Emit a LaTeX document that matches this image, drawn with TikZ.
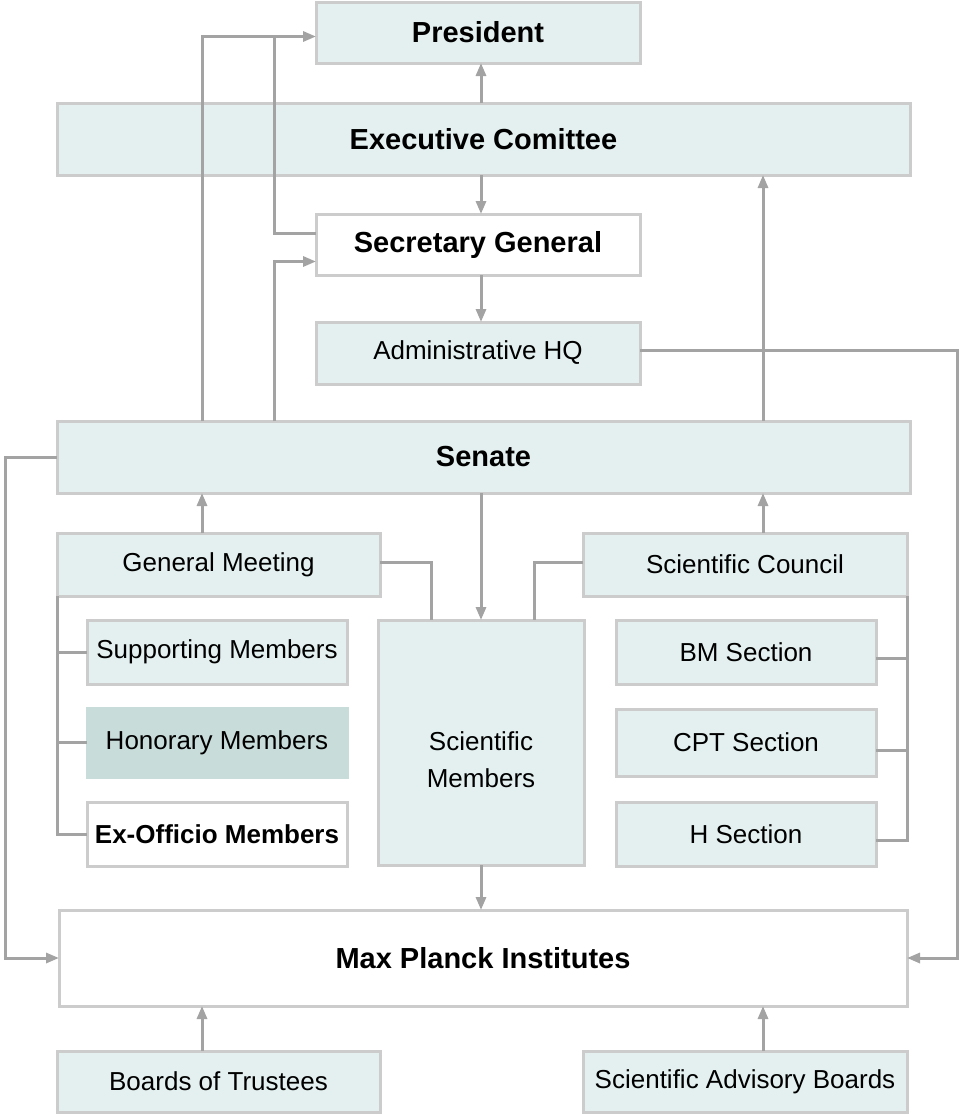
\documentclass[tikz,border=0pt]{standalone}
\usepackage{fontspec}
\setmainfont{Liberation Sans}
\usetikzlibrary{arrows.meta}
\definecolor{boxfill}{HTML}{E4F0F0}
\definecolor{boxdark}{HTML}{C8DCDA}
\definecolor{boxline}{HTML}{CCCCCC}
\definecolor{conn}{HTML}{A3A3A3}
\tikzset{
 box/.style={draw=boxline, line width=3pt, fill=boxfill, inner sep=0pt, outer sep=0pt,
   anchor=north west, align=center, font=\fontsize{26}{37}\selectfont},
 boldbox/.style={box, font=\fontsize{29}{35}\selectfont\bfseries},
 plain/.style={inner sep=0pt, outer sep=0pt, align=center, font=\fontsize{26}{37}\selectfont},
 line/.style={draw=conn, line width=3pt},
 arr/.style={line, -{Triangle[length=13pt,width=10pt]}},
}
\begin{document}
\begin{tikzpicture}[x=1pt,y=-1pt]
\useasboundingbox[fill=white] (0,0) rectangle (959,1117);
% boxes
\node[boldbox, minimum width=324pt, minimum height=61pt] (pres) at (316,2) {President};
\node[boldbox, minimum width=853pt, minimum height=72pt] (exec) at (57,103) {Executive Comittee};
\node[boldbox, fill=white, minimum width=324pt, minimum height=61pt] (sec) at (316,214) {Secretary General};
\node[box, minimum width=324pt, minimum height=62pt] (adm) at (316,322) {Administrative HQ};
\node[boldbox, minimum width=853pt, minimum height=72pt] (senate) at (57,421) {Senate};
\node[box, minimum width=323pt, minimum height=63pt] (gm) at (57,533) {General Meeting};
\node[box, minimum width=324pt, minimum height=63pt] (sc) at (583,533) {Scientific Council};
\node[box, minimum width=260pt, minimum height=64pt] (sup) at (87,620) {Supporting Members};
\node[box, fill=boxdark, draw=boxdark, minimum width=260pt, minimum height=69pt] (hon) at (87,708) {Honorary Members};
\node[box, fill=white, font=\fontsize{26}{37}\selectfont\bfseries, minimum width=260pt, minimum height=64pt] (exo) at (87,802) {Ex-Officio Members};
\node[box, minimum width=206pt, minimum height=245pt] (scim) at (378,620) {};
\node[plain] (scimtext) at ([yshift=-17pt]scim.center) {Scientific\\Members};
\node[box, minimum width=260pt, minimum height=64pt] (bm) at (616,620) {BM Section};
\node[box, minimum width=260pt, minimum height=67pt] (cpt) at (616,709) {CPT Section};
\node[box, minimum width=260pt, minimum height=64pt] (hs) at (616,802) {H Section};
\node[boldbox, fill=white, minimum width=848pt, minimum height=96pt] (mpi) at (59,910) {Max Planck Institutes};
\node[box, minimum width=323pt, minimum height=61pt] (bot) at (57,1051) {Boards of Trustees};
\node[box, minimum width=324pt, minimum height=61pt] (sab) at (583,1051) {Scientific Advisory Boards};
% guide coordinates
\coordinate (xc) at (481,0);
\coordinate (xl) at (202,0);
\coordinate (xr) at (763,0);
\coordinate (xs) at (274,0);
\coordinate (xg) at (431,0);
\coordinate (xh) at (534,0);
\coordinate (rr) at (957,0);
\coordinate (ll) at (5,0);
% connectors
\draw[arr] (exec.north -| xc) -- (pres.south -| xc);
\draw[arr] (exec.south -| xc) -- (sec.north -| xc);
\draw[arr] (sec.south -| xc) -- (adm.north -| xc);
\draw[line] ([yshift=11pt]sec.west) -| ([yshift=-4pt]pres.west -| xs);
\draw[arr] (senate.north -| xl) |- ([yshift=-4pt]pres.west);
\draw[arr] (senate.north -| xs) |- ([yshift=-17pt]sec.west);
\draw[arr] (senate.north -| xr) -- (exec.south -| xr);
\draw[arr] ([yshift=3pt]adm.east) -- ([yshift=3pt]adm.east -| rr) |- (mpi.east);
\draw[arr] (senate.west) -- (senate.west -| ll) |- (mpi.west);
\draw[arr] (gm.north -| xl) -- (senate.south -| xl);
\draw[arr] (sc.north -| xr) -- (senate.south -| xr);
\draw[arr] (senate.south -| xc) -- (scim.north -| xc);
\draw[line] ([yshift=2pt]gm.east) -| (scim.north -| xg);
\draw[line] ([yshift=2pt]sc.west) -| (scim.north -| xh);
\draw[line] (gm.south west) |- (exo.west);
\draw[line] (gm.south west |- sup.west) -- (sup.west);
\draw[line] (gm.south west |- hon.west) -- (hon.west);
\draw[line] (sc.south east) |- ([yshift=-6pt]hs.east);
\draw[line] ([yshift=-6pt]bm.east) -- ([yshift=-6pt]bm.east -| sc.south east);
\draw[line] ([yshift=-8pt]cpt.east) -- ([yshift=-8pt]cpt.east -| sc.south east);
\draw[arr] (scim.south -| xc) -- (mpi.north -| xc);
\draw[arr] (bot.north -| xl) -- (mpi.south -| xl);
\draw[arr] (sab.north -| xr) -- (mpi.south -| xr);
\end{tikzpicture}
\end{document}
